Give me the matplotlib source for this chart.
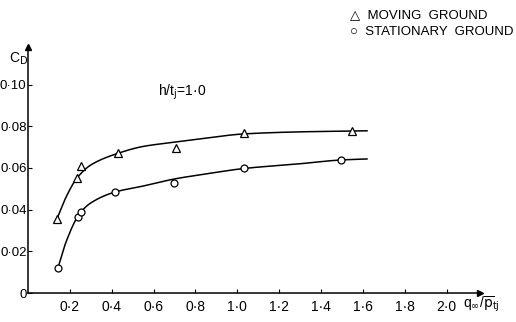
import matplotlib.pyplot as plt
import numpy as np

# measured drag coefficient against q_inf / p_tj, h/t_j = 1.0
x_moving = [0.138, 0.233, 0.252, 0.43, 0.705, 1.03, 1.55]
cd_moving = [0.0355, 0.055, 0.061, 0.067, 0.0695, 0.0767, 0.0777]

x_stationary = [0.143, 0.238, 0.252, 0.415, 0.70, 1.03, 1.495]
cd_stationary = [0.012, 0.0365, 0.039, 0.0484, 0.0528, 0.060, 0.0638]

# faired curves through the data
fair_x_moving = [0.138, 0.18, 0.233, 0.30, 0.43, 0.55, 0.705, 0.85, 1.03, 1.3, 1.55, 1.62]
fair_cd_moving = [0.0355, 0.0456, 0.055, 0.0614, 0.067, 0.0703, 0.0724, 0.0743,
                  0.0763, 0.0773, 0.0777, 0.0778]
fair_x_stationary = [0.143, 0.18, 0.245, 0.30, 0.415, 0.55, 0.705, 0.85, 1.03, 1.3,
                     1.495, 1.62]
fair_cd_stationary = [0.012, 0.024, 0.0378, 0.0432, 0.0484, 0.0513, 0.0548, 0.0571,
                      0.0597, 0.062, 0.0638, 0.0643]

x_ticks = [0.2, 0.4, 0.6, 0.8, 1.0, 1.2, 1.4, 1.6, 1.8, 2.0]
x_ticklabels = ["0·2", "0·4", "0·6", "0·8", "1·0", "1·2", "1·4", "1·6", "1·8", "2·0"]
y_ticks = [0, 0.02, 0.04, 0.06, 0.08, 0.10]
y_ticklabels = ["0", "0·02", "0·04", "0·06", "0·08", "0·10"]


def smooth(x, y, n=300):
    # monotone cubic hermite (Fritsch-Carlson) through the knots
    x = np.asarray(x, float)
    y = np.asarray(y, float)
    h = np.diff(x)
    d = np.diff(y) / h
    m = np.zeros_like(y)
    m[0], m[-1] = d[0], d[-1]
    for i in range(1, len(x) - 1):
        if d[i - 1] * d[i] > 0:
            w1 = 2 * h[i] + h[i - 1]
            w2 = h[i] + 2 * h[i - 1]
            m[i] = (w1 + w2) / (w1 / d[i - 1] + w2 / d[i])
    xs = np.linspace(x[0], x[-1], n)
    k = np.clip(np.searchsorted(x, xs) - 1, 0, len(x) - 2)
    t = (xs - x[k]) / h[k]
    h00 = 2 * t**3 - 3 * t**2 + 1
    h10 = t**3 - 2 * t**2 + t
    h01 = -2 * t**3 + 3 * t**2
    h11 = t**3 - t**2
    ys = h00 * y[k] + h10 * h[k] * m[k] + h01 * y[k + 1] + h11 * h[k] * m[k + 1]
    return xs, ys


plt.rcParams["font.family"] = ["Liberation Sans", "DejaVu Sans"]

fig = plt.figure(figsize=(5.16, 3.22), dpi=100)
ax = fig.add_axes([28 / 516, 29 / 322, 452 / 516, 246 / 322])
ax.set_xlim(0, 2.16)
ax.set_ylim(0, 0.118)

ax.plot(*smooth(fair_x_moving, fair_cd_moving), color="black", lw=1.1)
ax.plot(*smooth(fair_x_stationary, fair_cd_stationary), color="black", lw=1.1)
ax.plot(x_moving, cd_moving, "^", mfc="white", mec="black", ms=5.5, mew=0.9)
ax.plot(x_stationary, cd_stationary, "o", mfc="white", mec="black", ms=5, mew=0.9)

for s in ["top", "right"]:
    ax.spines[s].set_visible(False)
for s in ["left", "bottom"]:
    ax.spines[s].set_linewidth(1.1)

# arrow heads at the axis ends
ax.plot(1, 0, ">k", ms=4, transform=ax.transAxes, clip_on=False)
ax.plot(0, 1, "^k", ms=4, transform=ax.transAxes, clip_on=False)

ax.set_xticks(x_ticks)
ax.set_xticklabels(x_ticklabels)
ax.set_yticks(y_ticks)
ax.set_yticklabels(y_ticklabels)
ax.tick_params(axis="both", direction="in", length=3, width=0.8)
ax.tick_params(axis="x", pad=5, labelsize=10)
ax.tick_params(axis="y", pad=1, labelsize=9.5)

fig.text(9 / 516, 1 - 59 / 322, r"C$_{\mathrm{D}}$", fontsize=10, va="center")
fig.text(463 / 516, 1 - 304 / 322, r"q$_\infty$/$\overline{\mathrm{p}}_{\mathrm{tj}}$",
         fontsize=10, va="center")
ax.text(0.62, 0.0945, r"h/t$_{\mathrm{j}}$=1·0", fontsize=10)

fig.text(350 / 516, 1 - 15 / 322, "△  MOVING  GROUND", fontsize=9.5, va="center")
fig.text(350 / 516, 1 - 32 / 322, "○  STATIONARY  GROUND", fontsize=9.5, va="center")

fig.savefig("out.png", dpi=100)
